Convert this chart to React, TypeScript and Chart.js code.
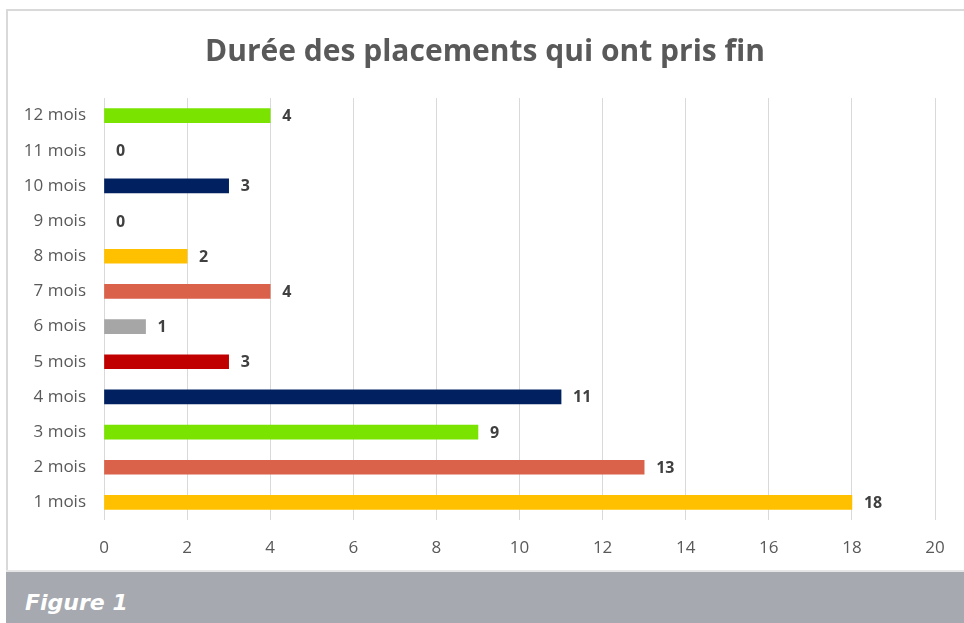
import React, { useEffect, useRef } from "react";
import { Chart, registerables } from "chart.js";

Chart.register(...registerables);

const TITLE = "Durée des placements qui ont pris fin";
const FOOTER = "Figure 1";
const categories = ["1 mois", "2 mois", "3 mois", "4 mois", "5 mois", "6 mois", "7 mois", "8 mois", "9 mois", "10 mois", "11 mois", "12 mois"];
const values = [18, 13, 9, 11, 3, 1, 4, 2, 0, 3, 0, 4];
const barColors = ["#FFC000", "#DA614A", "#7AE300", "#002060", "#C00000", "#A6A6A6", "#DA614A", "#FFC000", "#FFC000", "#002060", "#DA614A", "#7AE300"];
const xMin = 0;
const xMax = 20;
const xStep = 2;

const FONT = "'Open Sans', 'Noto Sans', sans-serif";

const valueLabels = {
  id: "valueLabels",
  afterDatasetsDraw(chart: any) {
    const { ctx } = chart;
    const meta = chart.getDatasetMeta(0);
    const xScale = chart.scales.x;
    ctx.save();
    ctx.font = `bold 16px ${FONT}`;
    ctx.fillStyle = "#404040";
    ctx.textAlign = "left";
    ctx.textBaseline = "middle";
    meta.data.forEach((bar: any, i: number) => {
      const v = values[i];
      const x = xScale.getPixelForValue(v) + 12;
      ctx.fillText(String(v), x, bar.y + 1);
    });
    ctx.restore();
  },
};

const centeredTitle = {
  id: "centeredTitle",
  afterDraw(chart: any) {
    const { ctx, width } = chart;
    ctx.save();
    ctx.font = `bold 30px ${FONT}`;
    ctx.fillStyle = "#595959";
    ctx.textAlign = "center";
    ctx.textBaseline = "middle";
    ctx.fillText(TITLE, width / 2, 43);
    ctx.restore();
  },
};

export default function App() {
  const ref = useRef<HTMLCanvasElement | null>(null);
  useEffect(() => {
    if (!ref.current) return;
    const chart = new Chart(ref.current, {
      type: "bar",
      data: {
        labels: categories,
        datasets: [
          {
            data: values,
            backgroundColor: values.map((v, i) => (v === 0 ? "rgba(0,0,0,0)" : barColors[i])),
            borderWidth: 0,
            barThickness: 14,
          },
        ],
      },
      options: {
        indexAxis: "y",
        animation: false,
        responsive: false,
        maintainAspectRatio: false,
        layout: { padding: { left: 0, right: 29, top: 89, bottom: 0 } },
        plugins: {
          legend: { display: false },
          tooltip: { enabled: false },
          title: { display: false },
        },
        scales: {
          x: {
            min: xMin,
            max: xMax,
            ticks: {
              stepSize: xStep,
              color: "#595959",
              font: { family: FONT, size: 17 },
              padding: 18,
            },
            grid: { color: "#D9D9D9", drawTicks: false, lineWidth: 1 },
            border: { display: false },
            afterFit(scale: any) {
              scale.height = 51;
            },
          },
          y: {
            reverse: true,
            ticks: {
              color: "#595959",
              font: { family: FONT, size: 17 },
              padding: 18,
            },
            grid: { display: false, drawTicks: false },
            border: { display: false },
            afterFit(scale: any) {
              scale.width = 98;
            },
          },
        },
      },
      plugins: [valueLabels, centeredTitle],
    });
    return () => chart.destroy();
  }, []);

  return (
    <div style={{ position: "absolute", left: 0, top: 0, width: 964, height: 623, background: "#fff", overflow: "hidden" }}>
      <div
        style={{
          position: "absolute",
          left: 6,
          top: 9,
          width: 958,
          height: 562,
          borderTop: "2px solid #D9D9D9",
          borderLeft: "2px solid #D9D9D9",
          boxSizing: "border-box",
        }}
      />
      <canvas ref={ref} width={958} height={562} style={{ position: "absolute", left: 6, top: 9, width: 958, height: 562 }} />
      <div style={{ position: "absolute", left: 6, top: 570, width: 958, height: 2, background: "#E6E6E6" }} />
      <div
        style={{
          position: "absolute",
          left: 6,
          top: 572,
          width: 958,
          height: 51,
          background: "#A6A9B0",
        }}
      >
        <span
          style={{
            position: "absolute",
            left: 19,
            top: 18,
            color: "#fff",
            fontFamily: "'DejaVu Sans', Verdana, sans-serif",
            fontWeight: "bold",
            fontStyle: "italic",
            fontSize: 22,
            lineHeight: "26px",
          }}
        >
          {FOOTER}
        </span>
      </div>
    </div>
  );
}
